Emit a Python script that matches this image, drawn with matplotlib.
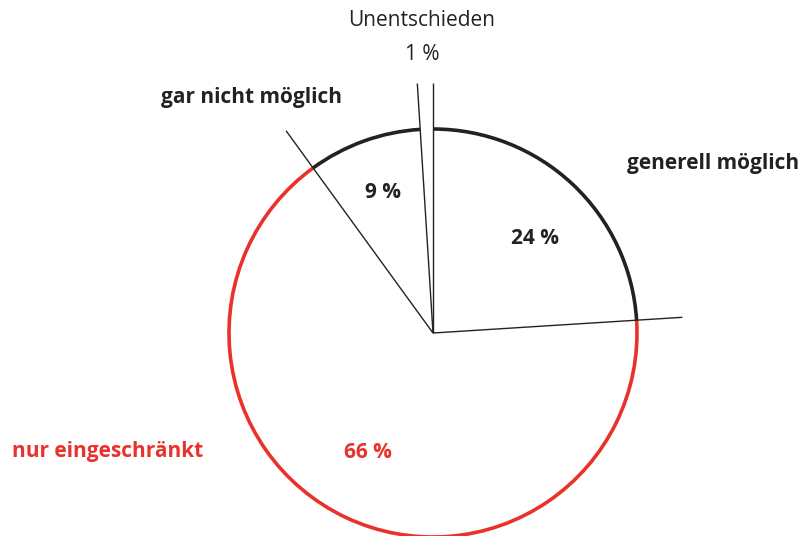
import numpy as np
import matplotlib
matplotlib.use("Agg")
import matplotlib.pyplot as plt
from matplotlib.patches import Arc

# data, clockwise from 12 o'clock
labels = ["generell möglich", "nur eingeschränkt", "gar nicht möglich", "Unentschieden"]
values = [24, 66, 9, 1]
pct_text = ["24 %", "66 %", "9 %", "1 %"]

RED = "#e8322b"
DARK = "#25211f"
arc_colors = [DARK, RED, DARK, "none"]

plt.rcParams["font.family"] = ["Open Sans", "DejaVu Sans"]

fig = plt.figure(figsize=(8.09, 5.36), dpi=100)
ax = fig.add_axes([0, 0, 1, 1])

cx, cy, r = 433, 203, 204
wedges, _ = ax.pie(values, center=(cx, cy), radius=r, startangle=90,
                   counterclock=False, colors=["white"] * 4,
                   wedgeprops=dict(linewidth=0), frame=True)
ax.set_xlim(0, 809)
ax.set_ylim(0, 536)
ax.set_aspect("equal")
ax.axis("off")

# coloured outer arcs
for w, c in zip(wedges, arc_colors):
    if c == "none":
        continue
    ax.add_patch(Arc((cx, cy), 2 * r, 2 * r, theta1=w.theta1, theta2=w.theta2,
                     color=c, lw=2.6, zorder=3))

# radial separators, extended past the rim as leader lines
ext = 1.225 * r
angles = sorted({round(w.theta1, 4) % 360 for w in wedges} | {round(w.theta2, 4) % 360 for w in wedges})
for a in angles:
    t = np.deg2rad(a)
    ax.plot([cx, cx + ext * np.cos(t)], [cy, cy + ext * np.sin(t)],
            color=DARK, lw=1.0, zorder=4, solid_capstyle="butt")

fs = 15
ax.text(422, 536 - 20, "Unentschieden", ha="center", va="center", fontsize=fs, color=DARK)
ax.text(422, 536 - 55, pct_text[3], ha="center", va="center", fontsize=fs, color=DARK)
ax.text(252, 536 - 97, labels[2], ha="center", va="center", fontsize=fs,
        fontweight="bold", color=DARK)
ax.text(627, 536 - 163, labels[0], ha="left", va="center", fontsize=fs,
        fontweight="bold", color=DARK)
ax.text(383, 536 - 192, pct_text[2], ha="center", va="center", fontsize=fs,
        fontweight="bold", color=DARK)
ax.text(535, 536 - 238, pct_text[0], ha="center", va="center", fontsize=fs,
        fontweight="bold", color=DARK)
ax.text(12, 536 - 452, labels[1], ha="left", va="center", fontsize=fs,
        fontweight="bold", color=RED)
ax.text(368, 536 - 452, pct_text[1], ha="center", va="center", fontsize=fs,
        fontweight="bold", color=RED)

fig.savefig("out.png", dpi=100)
